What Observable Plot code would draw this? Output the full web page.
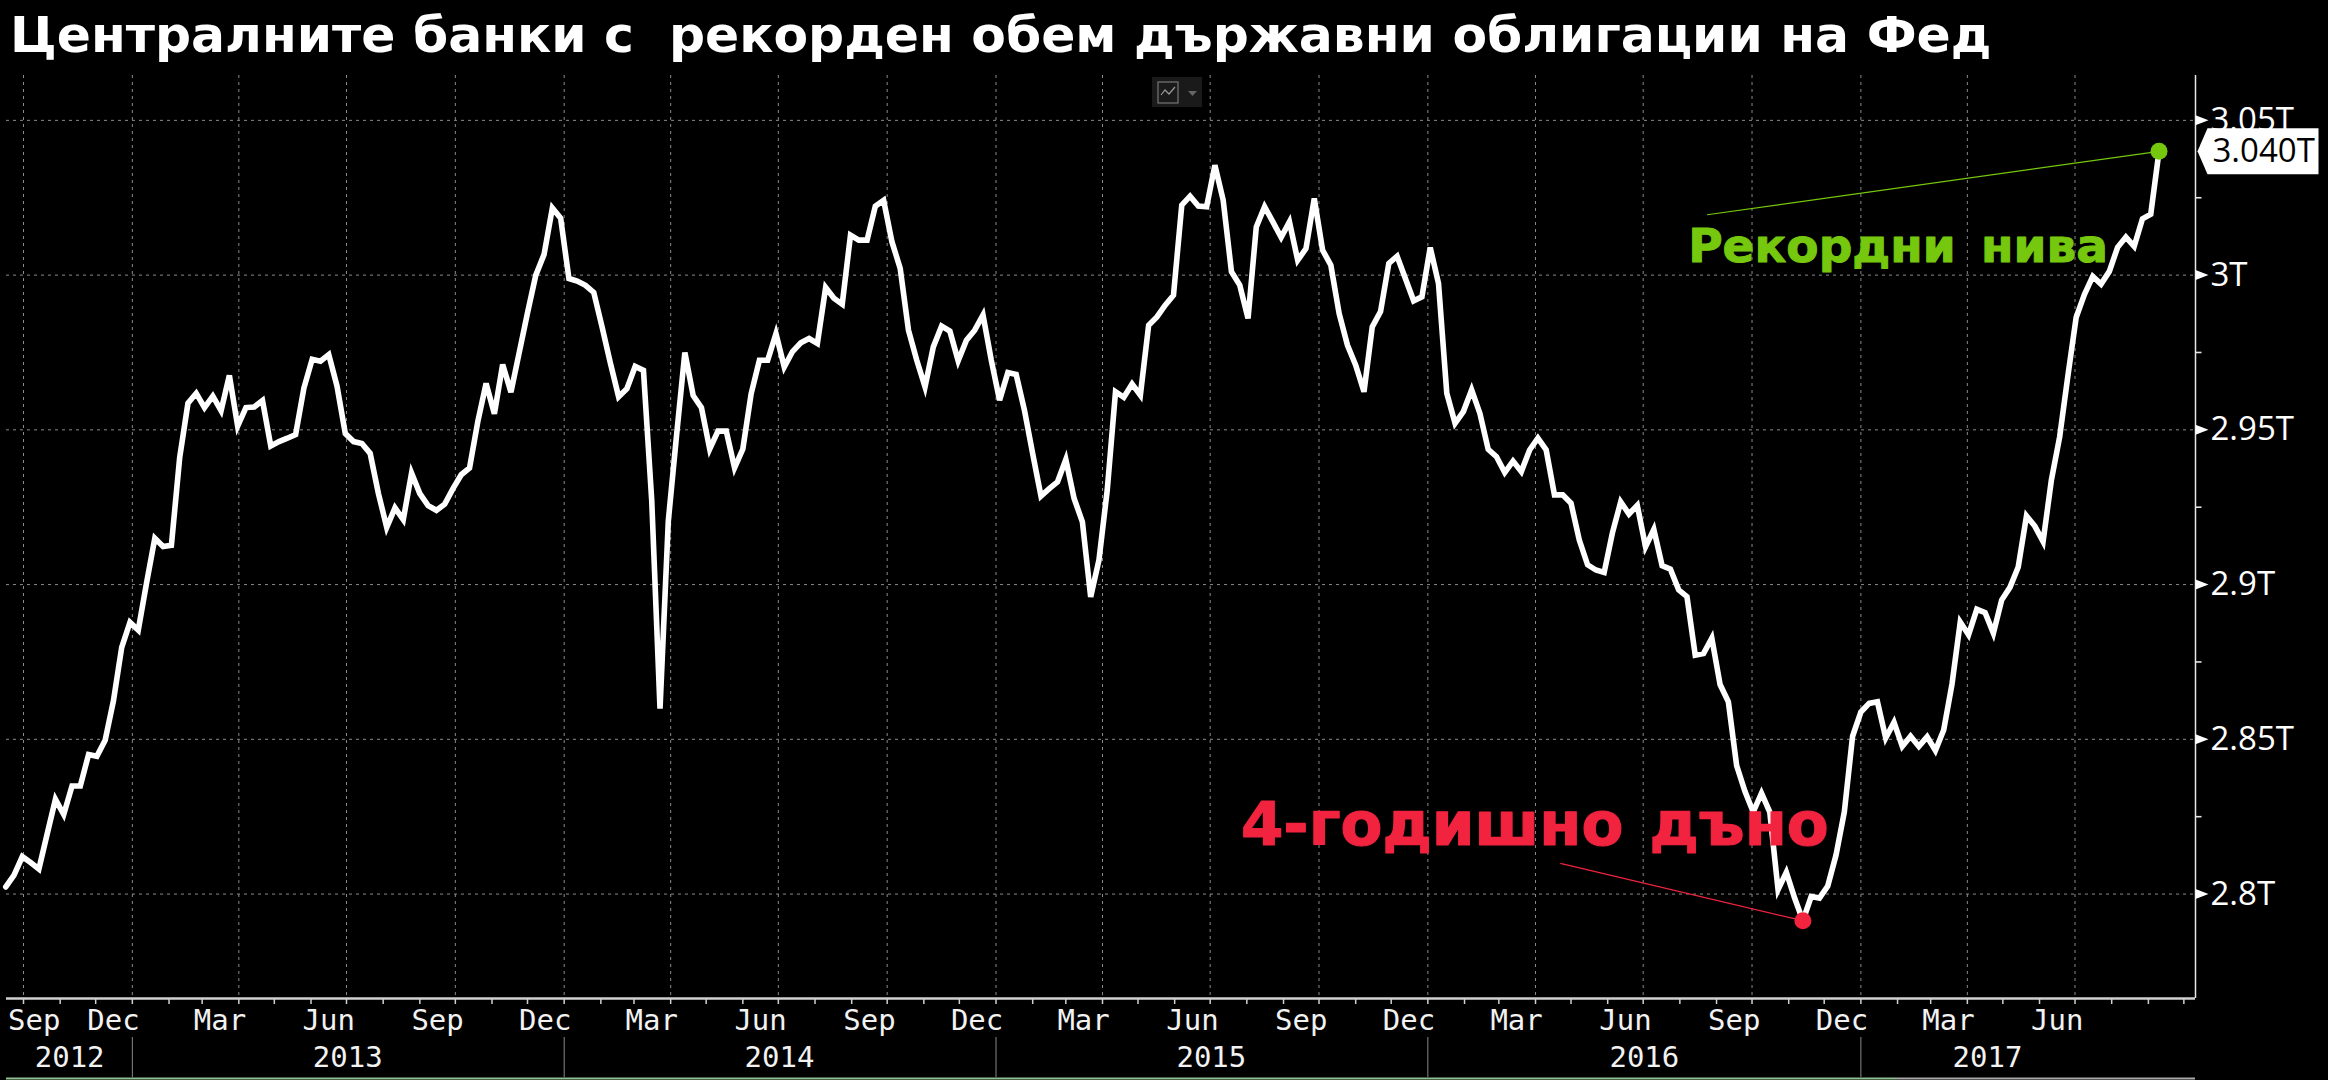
<!DOCTYPE html>
<html lang="bg">
<head>
<meta charset="utf-8">
<script src="https://cdn.jsdelivr.net/npm/d3@7"></script>
<script src="https://cdn.jsdelivr.net/npm/@observablehq/plot@0.6"></script>
<style>
html,body{margin:0;padding:0;background:#000;width:2328px;height:1080px;overflow:hidden}
#title{position:absolute;z-index:2;left:10px;top:5px;height:52px;line-height:52px;color:#fff;font:bold 50.4px "DejaVu Sans",sans-serif;white-space:pre}
#chart{position:absolute;left:0;top:60px}
#chart svg{display:block}
#icon{position:absolute;left:1152px;top:77px;width:50px;height:30px;background:#1a1a1a}
.wideG{word-spacing:9px}
.wideR{word-spacing:5px}
</style>
</head>
<body>
<div id="title">Централните банки с  рекорден обем държавни облигации на Фед</div>
<div id="chart"></div>
<div id="icon"><svg width="50" height="30"><rect x="6" y="5" width="20" height="21" fill="none" stroke="#777" stroke-width="1.2"/><path d="M9 18 L13 13 L17 17 L23 10" fill="none" stroke="#999" stroke-width="1.2"/><path d="M36 14 L45 14 L40.5 19 Z" fill="#666"/></svg></div>
<script>
// Weekly holdings, USD billions
const firstWeek = "2012-09-16";
const holdings = [
2802.3,2806.1,2812.1,2810.2,2808.1,2819.4,2830.6,2825.7,2834.9,2834.9,
2845.1,2844.5,2849.7,2862.4,2879.7,2887.8,2885.3,2900.5,2915,2912.3,
2912.7,2941,2958.6,2961.8,2957.2,2960.9,2956.2,2967.6,2951.2,2957.2,
2957.4,2959.5,2944.8,2946.2,2947.3,2948.5,2963.5,2972.8,2972.2,2974.3,
2964.1,2948.8,2946.2,2945.6,2942.4,2929.4,2918.5,2924.8,2921,2936,
2929.4,2925.5,2924,2926,2931,2935.5,2937.7,2952.7,2965,2955.2,
2971.1,2962.2,2975,2987.8,3000,3006.7,3021.7,3018.4,2998.9,2998.1,
2996.7,2994.4,2983.3,2971.6,2960.7,2963.3,2970.5,2969.2,2927.1,2859.9,
2920.5,2948.3,2975,2961.1,2957.2,2943.8,2949.6,2949.6,2937.7,2943.8,
2961.6,2972.5,2972.5,2981.1,2970.3,2975.3,2978.1,2979.5,2977.9,2996,
2992.5,2990.6,3012.9,3011.3,3011.3,3022.3,3024.2,3010.8,3002.2,2982.2,
2972.5,2963.9,2976.8,2983.5,2981.9,2972.3,2979,2982.2,2987.1,2972.5,
2959.6,2968.5,2967.9,2956.4,2942.3,2928.6,2931,2933.2,2940.4,2927.8,
2920.3,2896,2907.9,2930.5,2962.3,2960.5,2964.8,2961.2,2983.8,2986.5,
2990.3,2993.5,3022.6,3025.5,3022.3,3022.1,3035.5,3024.2,3001.1,2996.8,
2986,3015.6,3022.1,3017.2,3012.2,3017.2,3004.8,3008.6,3024.8,3008.1,
3003.2,2987.6,2977.4,2970.9,2962.3,2983.3,2988.2,3003.8,3006.1,2998.9,
2991.7,2993,3008.9,2997.3,2961.8,2952.1,2955.9,2962.9,2955.3,2943.7,
2941.3,2936.2,2939.9,2936.5,2943.5,2947.3,2943.5,2929,2929,2926.3,
2914.4,2906.4,2904.7,2903.9,2916.7,2926.7,2922.8,2925.6,2912.2,2917.8,
2906.1,2905,2898.3,2896.1,2877.2,2877.7,2882.7,2867.7,2862.1,2841.5,
2833.2,2826.5,2832.6,2826.5,2801.4,2807,2798.7,2791.4,2799.2,2798.7,
2802.6,2812.6,2826.5,2851,2858.8,2861.6,2862.1,2850.4,2855.5,2847.7,
2851,2847.7,2850.8,2846.4,2853,2867.8,2887.9,2883.8,2892,2890.9,
2884.3,2895,2899.1,2905.7,2922.2,2918.9,2913.9,2933.7,2947.7,2967.5,
2986.4,2993.8,2999.6,2997.1,3001.2,3009,3012.3,3009.3,3018.2,3019.7,
3040];
const lowIndex = 217;

const yTickValues = [2800,2850,2900,2950,3000,3050];
const yTickLabels = ["2.8T","2.85T","2.9T","2.95T","3T","3.05T"];
const yMinorTicks = [2825,2875,2925,2975,3025];
const yDomain = [2766.25,3064.5];

const xDomainStart = "2012-09-16T15:00Z";
const xDomainEnd = "2017-10-10T20:00Z";
const quarterLabels = ["Sep","Dec","Mar","Jun","Sep","Dec","Mar","Jun","Sep","Dec","Mar","Jun","Sep","Dec","Mar","Jun","Sep","Dec","Mar","Jun"];
const quarterLabelDates = ["2012-10-10","2012-12-16","2013-03-16","2013-06-16","2013-09-16","2013-12-16","2014-03-16","2014-06-16","2014-09-16","2014-12-16","2015-03-16","2015-06-16","2015-09-16","2015-12-16","2016-03-16","2016-06-16","2016-09-16","2016-12-16","2017-03-16","2017-06-16"];
const quarterGridDates = ["2012-10-01","2013-01-01","2013-04-01","2013-07-01","2013-10-01","2014-01-01","2014-04-01","2014-07-01","2014-10-01","2015-01-01","2015-04-01","2015-07-01","2015-10-01","2016-01-01","2016-04-01","2016-07-01","2016-10-01","2017-01-01","2017-04-01","2017-07-01"];
const yearLabels = ["2012","2013","2014","2015","2016","2017"];
const yearLabelDates = ["2012-11-09","2013-07-02","2014-07-02","2015-07-02","2016-07-02","2017-04-18"];
const yearBreaks = ["2013-01-01","2014-01-01","2015-01-01","2016-01-01","2017-01-01"];

const highText = "Рекордни нива";
const lowText = "4-годишно дъно";
const highTextAt = ["2016-08-08",3009];
const lowTextAt = ["2015-07-27",2822.2];
const highLeaderStart = ["2016-08-24",3019.5];
const lowLeaderStart = ["2016-04-22",2809.9];
const lastLabel = "3.040T";

const GREEN = "#76c80e", RED = "#f1233f", GRID = "#8a8a8a";
const D = s => new Date(s);
const weeks = holdings.map((v,i) => ({date: d3.utcDay.offset(D(firstWeek), 7*i), value: v}));
const last = weeks[weeks.length-1], low = weeks[lowIndex];
const monthTicks = d3.utcMonth.range(D("2012-10-01"), D("2017-10-02"));

const triangleSymbol = {draw(c){c.moveTo(0,-5);c.lineTo(13,0);c.lineTo(0,5);c.closePath();}};
const minorSymbol = {draw(c){c.moveTo(0,-0.8);c.lineTo(6,-0.8);c.lineTo(6,0.8);c.lineTo(0,0.8);c.closePath();}};
const tagSymbol = {draw(c){c.moveTo(2,0);c.lineTo(12,-23);c.lineTo(123,-23);c.lineTo(123,23);c.lineTo(12,23);c.closePath();}};
const LABEL_FONT = "'Open Sans',sans-serif", MONO = "'DejaVu Sans Mono',monospace", BOLD = "'DejaVu Sans',sans-serif";

const plot = Plot.plot({
  width: 2328, height: 1020,
  marginTop: 15, marginBottom: 82, marginLeft: 6, marginRight: 133,
  style: {background:"#000", color:"#fff"},
  x: {type:"utc", domain:[D(xDomainStart),D(xDomainEnd)], axis:null},
  y: {domain:yDomain, axis:null},
  marks: [
    Plot.ruleY(yTickValues,{stroke:GRID,strokeWidth:1,strokeDasharray:"3,4"}),
    Plot.ruleX(quarterGridDates.map(D),{stroke:GRID,strokeWidth:1,strokeDasharray:"3,4"}),
    Plot.ruleY([yDomain[0]],{stroke:"#d0d0d0",strokeWidth:2.5}),
    Plot.ruleX([D(xDomainEnd)],{stroke:"#e6e6e6",strokeWidth:1.5}),
    Plot.axisX({ticks:monthTicks,tickFormat:()=>"",tickSize:6,stroke:"#d0d0d0",strokeWidth:1.5,label:null}),
    Plot.ruleX(yearBreaks.map(D),{stroke:"#888",strokeWidth:1,insetTop:883,dy:79}),
    Plot.ruleY([yDomain[0]],{x1:D(xDomainStart),x2:D("2017-02-01"),dy:80,stroke:"#8fc08f",strokeWidth:2}),
    Plot.ruleY([yDomain[0]],{x1:D("2017-02-01"),x2:D(xDomainEnd),dy:80,stroke:"#aaa",strokeWidth:2}),
    Plot.dot(yMinorTicks,{y:d=>d,frameAnchor:"right",symbol:minorSymbol,fill:"#e6e6e6",stroke:"none",r:5}),
    Plot.dot(yTickValues,{y:d=>d,frameAnchor:"right",symbol:triangleSymbol,fill:"#fff",stroke:"none",r:5}),
    Plot.text(yTickValues,{y:d=>d,text:(d,i)=>yTickLabels[i],frameAnchor:"right",dx:15,textAnchor:"start",lineAnchor:"middle",fontFamily:LABEL_FONT,fontSize:33,fill:"#fff"}),
    Plot.text(quarterLabels,{x:(d,i)=>D(quarterLabelDates[i]),text:d=>d,frameAnchor:"bottom",dy:22,lineAnchor:"middle",fontFamily:MONO,fontSize:29,fill:"#f2f2f2"}),
    Plot.text(yearLabels,{x:(d,i)=>D(yearLabelDates[i]),text:d=>d,frameAnchor:"bottom",dy:59,lineAnchor:"middle",fontFamily:MONO,fontSize:29,fill:"#f2f2f2"}),
    Plot.link([0],{x1:()=>D(highLeaderStart[0]),y1:()=>highLeaderStart[1],x2:()=>last.date,y2:()=>last.value,stroke:GREEN,strokeWidth:1.2}),
    Plot.link([0],{x1:()=>D(lowLeaderStart[0]),y1:()=>lowLeaderStart[1],x2:()=>low.date,y2:()=>low.value,stroke:RED,strokeWidth:1.2}),
    Plot.line(weeks,{x:"date",y:"value",stroke:"#fff",strokeWidth:5.6,strokeLinejoin:"miter",strokeMiterlimit:4,curve:"linear"}),
    Plot.dot([last],{x:"date",y:"value",r:8.5,fill:GREEN,stroke:"none"}),
    Plot.dot([low],{x:"date",y:"value",r:8.5,fill:RED,stroke:"none"}),
    Plot.text([highText],{x:()=>D(highTextAt[0]),y:()=>highTextAt[1],text:d=>d,textAnchor:"start",lineAnchor:"middle",fontFamily:BOLD,fontWeight:"bold",fontSize:47,fill:GREEN,stroke:GREEN,strokeWidth:1,className:"wideG"}),
    Plot.text([lowText],{x:()=>D(lowTextAt[0]),y:()=>lowTextAt[1],text:d=>d,textAnchor:"start",lineAnchor:"middle",fontFamily:BOLD,fontWeight:"bold",fontSize:61,fill:RED,stroke:RED,strokeWidth:1.2,className:"wideR"}),
    Plot.dot([last.value],{y:d=>d,frameAnchor:"right",symbol:tagSymbol,fill:"#fff",stroke:"none",r:5}),
    Plot.text([lastLabel],{y:()=>last.value,frameAnchor:"right",dx:17,text:d=>d,textAnchor:"start",lineAnchor:"middle",fontFamily:LABEL_FONT,fontSize:33,fill:"#000"})
  ]
});
document.getElementById("chart").appendChild(plot);
</script>
</body>
</html>
